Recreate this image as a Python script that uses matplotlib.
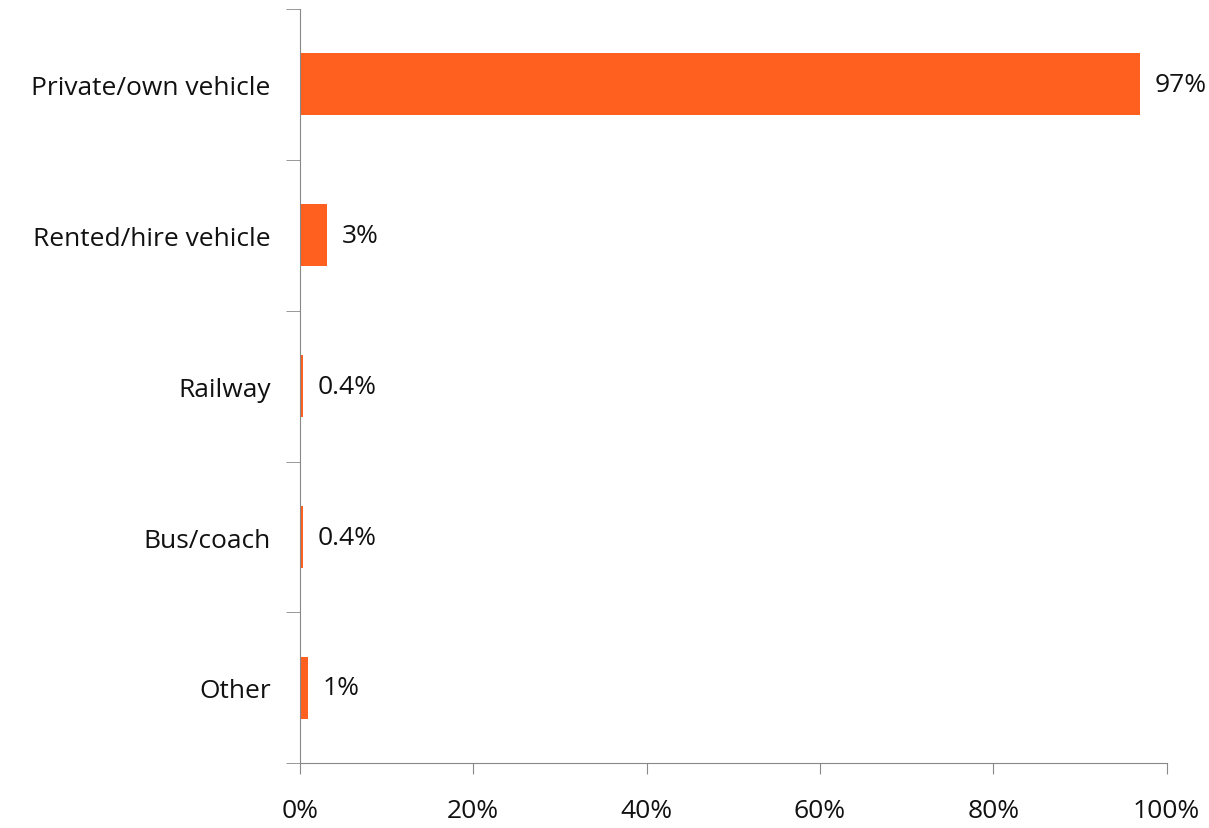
import numpy as np
import matplotlib.pyplot as plt
from matplotlib.ticker import FixedLocator, PercentFormatter

# data
categories = ['Private/own vehicle', 'Rented/hire vehicle', 'Railway', 'Bus/coach', 'Other']
values = [96.9, 3.1, 0.4, 0.4, 0.9]
labels = ['97%', '3%', '0.4%', '0.4%', '1%']

plt.rcParams['font.family'] = ['Open Sans', 'DejaVu Sans']
fs = 19

fig = plt.figure(figsize=(12.09, 8.29), dpi=100)
ax = fig.add_axes([0.248, 0.078, 0.717, 0.910])

y = np.arange(len(categories))
ax.barh(y, values, height=0.41, color='#FF5F1F')

for yi, v, lab in zip(y, values, labels):
    ax.text(v + 1.7, yi, lab, va='center', ha='left', fontsize=fs, color='#111111')

ax.set_ylim(len(categories) - 0.5, -0.5)
ax.set_xlim(0, 100)
ax.set_yticks(y)
ax.set_yticklabels(categories, fontsize=fs, color='#111111')
ax.yaxis.set_minor_locator(FixedLocator(np.arange(-0.5, len(categories), 1)))
ax.tick_params(axis='y', which='major', length=0, pad=21)
ax.tick_params(axis='y', which='minor', length=10, color='#888888')

ax.set_xticks(np.arange(0, 101, 20))
ax.xaxis.set_major_formatter(PercentFormatter(decimals=0))
ax.tick_params(axis='x', length=8, color='#888888', labelsize=fs, labelcolor='#111111', pad=17)

for s in ['top', 'right']:
    ax.spines[s].set_visible(False)
for s in ['left', 'bottom']:
    ax.spines[s].set_color('#888888')

fig.savefig('out.png', dpi=100)
